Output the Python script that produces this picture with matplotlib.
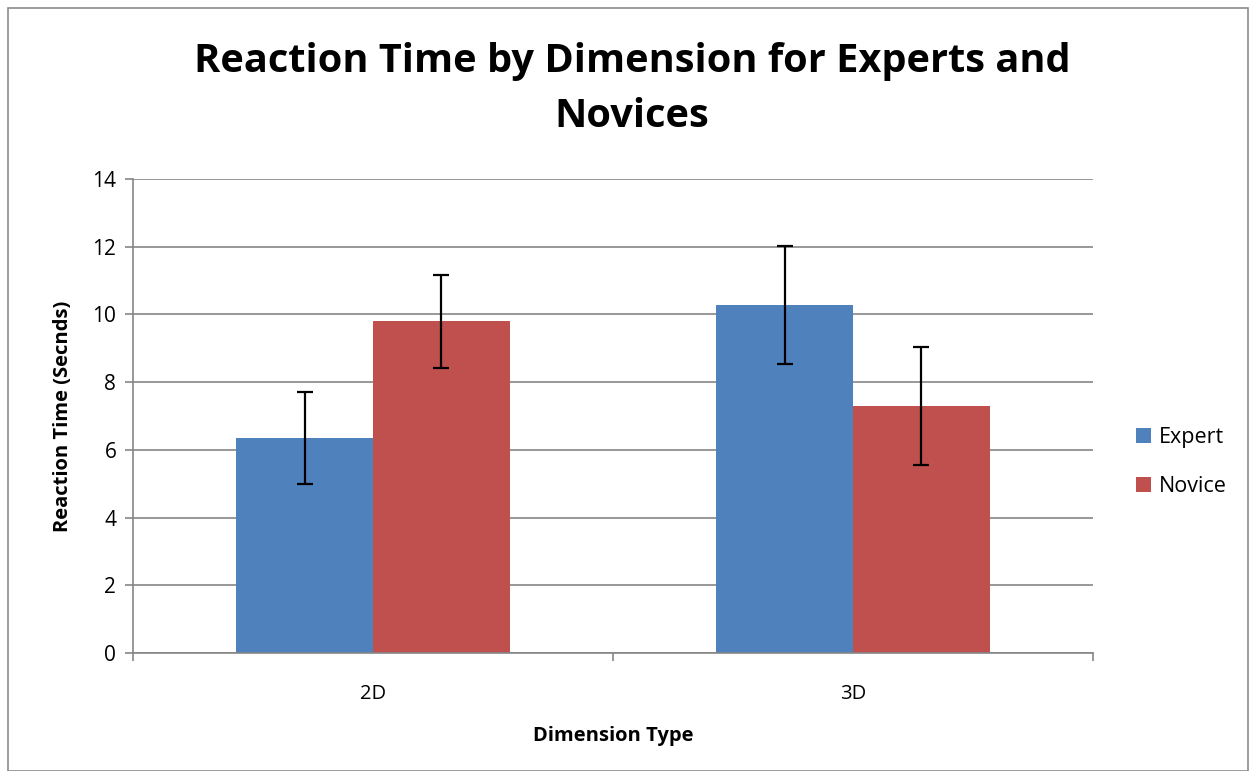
import matplotlib.pyplot as plt
import numpy as np
from matplotlib.patches import Rectangle

categories = ['2D', '3D']
expert = [6.35, 10.28]
novice = [9.80, 7.29]
expert_err = [1.37, 1.74]
novice_err = [1.37, 1.74]

plt.rcParams['font.family'] = ['Open Sans', 'DejaVu Sans']

fig = plt.figure(figsize=(12.55, 7.71), dpi=100)
fig.patches.append(Rectangle((8 / 1255, 0), 1240 / 1255, 763 / 771, transform=fig.transFigure,
                             fill=False, edgecolor='#8c8c8c', linewidth=1.2))
ax = fig.add_axes([133 / 1255, 1 - 653 / 771, 960 / 1255, 474 / 771])

x = np.arange(len(categories))
w = 0.285
ax.bar(x - w / 2, expert, w, color='#4F81BD', label='Expert', zorder=2)
ax.bar(x + w / 2, novice, w, color='#C0504D', label='Novice', zorder=2)
ax.errorbar(x - w / 2, expert, yerr=expert_err, fmt='none', ecolor='black',
            elinewidth=1.6, capsize=6, capthick=1.6, zorder=3)
ax.errorbar(x + w / 2, novice, yerr=novice_err, fmt='none', ecolor='black',
            elinewidth=1.6, capsize=6, capthick=1.6, zorder=3)

ax.set_xlim(-0.5, 1.5)
ax.set_ylim(0, 14)
ax.set_yticks(range(0, 15, 2))
ax.yaxis.grid(True, color='#868686', linewidth=1.2, zorder=0)
ax.set_axisbelow(True)

ax.set_xticks(x)
ax.set_xticklabels(categories)
ax.set_xticks([-0.5, 0.5, 1.5], minor=True)
ax.tick_params(axis='x', which='major', length=0, pad=22, labelsize=14.5)
ax.tick_params(axis='x', which='minor', length=6, color='#868686', width=1.2)
ax.tick_params(axis='y', length=6, color='#868686', width=1.2, labelsize=15, pad=6)

for side in ['top', 'right']:
    ax.spines[side].set_visible(False)
for side in ['left', 'bottom']:
    ax.spines[side].set_color('#868686')
    ax.spines[side].set_linewidth(1.2)

ax.set_xlabel('Dimension Type', fontsize=14.5, fontweight='bold', labelpad=16)
ax.set_ylabel('Reaction Time (Secnds)', fontsize=14.5, fontweight='bold', labelpad=14)

fig.text(632 / 1255, 1 - 89 / 771, 'Reaction Time by Dimension for Experts and\nNovices',
         ha='center', va='center', fontsize=28.6, fontweight='bold', linespacing=1.55)

ax.legend(loc='center left', bbox_to_anchor=(1.025, 0.403), frameon=False, fontsize=15.5,
          handlelength=0.7, handleheight=0.7, labelspacing=1.3, handletextpad=0.35)

fig.savefig('out.png', dpi=100)
